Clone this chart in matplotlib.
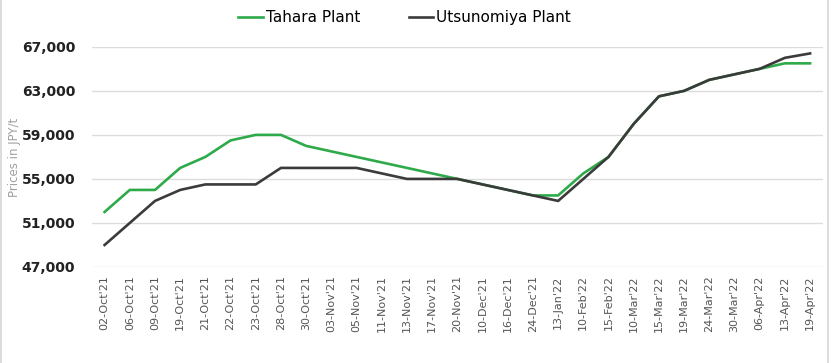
import matplotlib
matplotlib.use("Agg")
import matplotlib.pyplot as plt
from matplotlib.patches import Rectangle

dates = ["02-Oct'21", "06-Oct'21", "09-Oct'21", "19-Oct'21", "21-Oct'21", "22-Oct'21",
         "23-Oct'21", "28-Oct'21", "30-Oct'21", "03-Nov'21", "05-Nov'21", "11-Nov'21",
         "13-Nov'21", "17-Nov'21", "20-Nov'21", "10-Dec'21", "16-Dec'21", "24-Dec'21",
         "13-Jan'22", "10-Feb'22", "15-Feb'22", "10-Mar'22", "15-Mar'22", "19-Mar'22",
         "24-Mar'22", "30-Mar'22", "06-Apr'22", "13-Apr'22", "19-Apr'22"]

tahara = [52000, 54000, 54000, 56000, 57000, 58500, 59000, 59000, 58000, 57500,
          57000, 56500, 56000, 55500, 55000, 54500, 54000, 53500, 53500, 55500,
          57000, 60000, 62500, 63000, 64000, 64500, 65000, 65500, 65500]

utsunomiya = [49000, 51000, 53000, 54000, 54500, 54500, 54500, 56000, 56000, 56000,
              56000, 55500, 55000, 55000, 55000, 54500, 54000, 53500, 53000, 55000,
              57000, 60000, 62500, 63000, 64000, 64500, 65000, 66000, 66400]

yticks = [47000, 51000, 55000, 59000, 63000, 67000]

fig = plt.figure(figsize=(8.31, 3.63), dpi=100)
ax = fig.add_axes([0.1107, 0.2645, 0.8793, 0.6065])

x = list(range(len(dates)))
ax.plot(x, tahara, color="#2eaa4a", lw=1.9, label="Tahara Plant", zorder=3)
ax.plot(x, utsunomiya, color="#3b3b3b", lw=1.9, label="Utsunomiya Plant", zorder=4)

ax.set_xlim(-0.5, len(dates) - 0.5)
ax.set_ylim(47000, 67000)
ax.set_yticks(yticks)
ax.set_yticklabels([f"{v:,}" for v in yticks], fontsize=10, fontweight="bold", color="#222222")
ax.set_xticks(x)
ax.set_xticklabels(dates, rotation=90, fontsize=8, color="#555555")
ax.tick_params(axis="both", length=0)
ax.tick_params(axis="y", pad=12)
ax.tick_params(axis="x", pad=6)
ax.grid(axis="y", color="#dcdcdc", lw=1)
ax.set_axisbelow(True)
for s in ax.spines.values():
    s.set_visible(False)

ax.set_ylabel("Prices in JPY/t", fontsize=8.5, color="#a0a0a0")
ax.yaxis.set_label_coords(-0.097, 0.5)

fig.legend(loc="center", bbox_to_anchor=(0.487, 0.952), ncol=2, frameon=False,
           fontsize=11, handlelength=1.6, handletextpad=0.2, columnspacing=3.2)

fig.text(0.986, 1.018, "SteelMint", ha="right", va="center", fontsize=10,
         fontweight="bold", color="#333333")

fig.patches.append(Rectangle((0.0015, -0.2), 0.995, 1.3, transform=fig.transFigure,
                             fill=False, edgecolor="#d5d5d5", lw=1.2))

fig.savefig("out.png", dpi=100, facecolor="white")
